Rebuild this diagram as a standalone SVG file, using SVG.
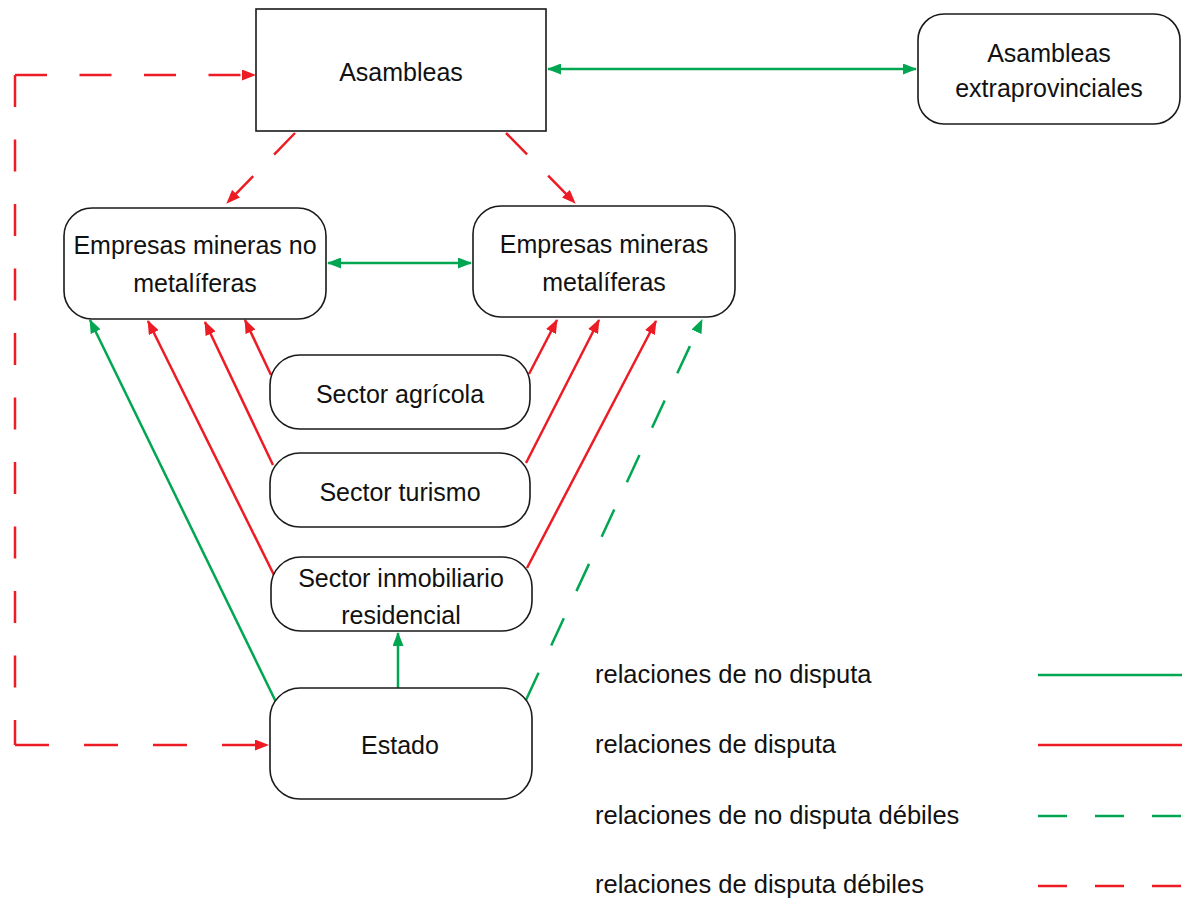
<svg xmlns="http://www.w3.org/2000/svg" width="1182" height="898" viewBox="0 0 1182 898">
<defs>
<style>
.node{fill:#fff;stroke:#1a1a1a;stroke-width:1.6}
.t{font-family:"Liberation Sans",Arial,sans-serif;font-size:25px;fill:#111;text-anchor:middle}
.lg{font-family:"Liberation Sans",Arial,sans-serif;font-size:25.5px;fill:#111}
.g{stroke:#00A651;stroke-width:2.5;fill:none}
.r{stroke:#ED1C24;stroke-width:2.5;fill:none}
.gd{stroke:#00A651;stroke-width:2.5;fill:none;stroke-dasharray:30 30}
.rd{stroke:#ED1C24;stroke-width:2.5;fill:none;stroke-dasharray:30 30}
</style>
<marker id="ag" viewBox="0 0 14 11" refX="13" refY="5.5" markerWidth="14" markerHeight="11" markerUnits="userSpaceOnUse" orient="auto-start-reverse"><path d="M0,0 L14,5.5 L0,11 z" fill="#00A651"/></marker>
<marker id="ar" viewBox="0 0 14 11" refX="13" refY="5.5" markerWidth="14" markerHeight="11" markerUnits="userSpaceOnUse" orient="auto-start-reverse"><path d="M0,0 L14,5.5 L0,11 z" fill="#ED1C24"/></marker>
</defs>
<rect width="1182" height="898" fill="#fff"/>

<g id="connectors">
<line class="g" x1="548" y1="69" x2="916" y2="69" marker-start="url(#ag)" marker-end="url(#ag)"/>
<line class="g" x1="328" y1="263" x2="471" y2="263" marker-start="url(#ag)" marker-end="url(#ag)"/>
<line class="rd" x1="295" y1="133" x2="227" y2="203" marker-end="url(#ar)"/>
<line class="rd" x1="506" y1="133" x2="575" y2="203" marker-end="url(#ar)"/>
<g id="estado-asambleas">
<path class="r" d="M15,75 L255,75" stroke-dasharray="32 32.5" marker-end="url(#ar)"/>
<path class="r" d="M15,75 L15,745" stroke-dasharray="32 32.5"/>
<path class="r" d="M15,745 L268,745" stroke-dasharray="34 35" marker-end="url(#ar)"/>
</g>
<line class="r" x1="271" y1="375" x2="245" y2="320" marker-end="url(#ar)"/>
<line class="r" x1="273" y1="465" x2="205" y2="322" marker-end="url(#ar)"/>
<line class="r" x1="274" y1="575" x2="148" y2="321" marker-end="url(#ar)"/>
<line class="g" x1="276" y1="702" x2="90" y2="320" marker-end="url(#ag)"/>
<line class="r" x1="529" y1="374" x2="557" y2="320" marker-end="url(#ar)"/>
<line class="r" x1="526" y1="463" x2="599" y2="320" marker-end="url(#ar)"/>
<line class="r" x1="527" y1="568" x2="656" y2="321" marker-end="url(#ar)"/>
<line class="gd" x1="526" y1="700" x2="702" y2="320" marker-end="url(#ag)"/>
<line class="g" x1="398" y1="688" x2="398" y2="633" marker-end="url(#ag)"/>
</g>

<g id="asambleas">
<rect class="node" x="256" y="9" width="290" height="122"/>
<text class="t" x="401" y="81" font-size="26.5">Asambleas</text>
</g>
<g id="asambleas-extraprovinciales">
<rect class="node" x="918" y="14" width="262" height="110" rx="26"/>
<text class="t" x="1049" y="62">Asambleas</text>
<text class="t" x="1049" y="97">extraprovinciales</text>
</g>
<g id="empresas-no-metaliferas">
<rect class="node" x="64" y="208" width="262" height="111" rx="28"/>
<text class="t" x="195" y="254">Empresas mineras no</text>
<text class="t" x="195" y="292">metalíferas</text>
</g>
<g id="empresas-metaliferas">
<rect class="node" x="473" y="206" width="262" height="111" rx="28"/>
<text class="t" x="604" y="253">Empresas mineras</text>
<text class="t" x="604" y="291">metalíferas</text>
</g>
<g id="sector-agricola">
<rect class="node" x="270" y="355" width="260" height="74" rx="30"/>
<text class="t" x="400" y="403">Sector agrícola</text>
</g>
<g id="sector-turismo">
<rect class="node" x="270" y="453" width="260" height="74" rx="30"/>
<text class="t" x="400" y="501">Sector turismo</text>
</g>
<g id="sector-inmobiliario">
<rect class="node" x="271" y="557" width="261" height="74" rx="30"/>
<text class="t" x="401" y="587">Sector inmobiliario</text>
<text class="t" x="401" y="624">residencial</text>
</g>
<g id="estado">
<rect class="node" x="270" y="688" width="262" height="111" rx="30"/>
<text class="t" x="400" y="754">Estado</text>
</g>

<g id="legend">
<text class="lg" x="595" y="683">relaciones de no disputa</text>
<text class="lg" x="595" y="753">relaciones de disputa</text>
<text class="lg" x="595" y="824">relaciones de no disputa débiles</text>
<text class="lg" x="595" y="893">relaciones de disputa débiles</text>
<line class="g" x1="1038" y1="675" x2="1182" y2="675"/>
<line class="r" x1="1038" y1="745" x2="1182" y2="745"/>
<line class="g" x1="1038" y1="816" x2="1182" y2="816" stroke-dasharray="29 28"/>
<line class="r" x1="1038" y1="886" x2="1182" y2="886" stroke-dasharray="29 28"/>
</g>
</svg>
